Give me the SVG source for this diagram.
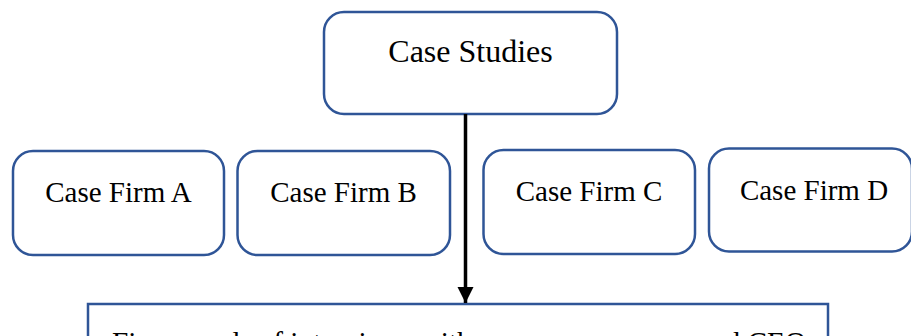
<svg xmlns="http://www.w3.org/2000/svg" width="911" height="336" viewBox="0 0 911 336">
  <style>
    .box { fill: #ffffff; stroke: #2F5597; stroke-width: 2.5; }
    .lbl { font-family: "Liberation Serif", "Times New Roman", serif; fill: #000000; text-anchor: middle; }
    .conn { stroke: #000000; stroke-width: 3.5; fill: none; }
  </style>
  <defs>
    <marker id="arrow" markerUnits="userSpaceOnUse" markerWidth="18" markerHeight="18" refX="16" refY="8" orient="auto">
      <path d="M0,0 L16,8 L0,16 Z" fill="#000000"/>
    </marker>
  </defs>
  <rect width="911" height="336" fill="#ffffff"/>
  <g id="case-studies">
    <rect class="box" x="324" y="12" width="293" height="102" rx="20" ry="20"/>
    <text class="lbl" x="470.5" y="61.5" font-size="32">Case Studies</text>
  </g>
  <g id="firm-a">
    <rect class="box" x="13" y="151" width="211" height="104" rx="20" ry="20"/>
    <text class="lbl" x="118.5" y="201.5" font-size="29">Case Firm A</text>
  </g>
  <g id="firm-b">
    <rect class="box" x="237.5" y="151" width="212.5" height="104" rx="20" ry="20"/>
    <text class="lbl" x="343.5" y="201.5" font-size="29">Case Firm B</text>
  </g>
  <g id="firm-c">
    <rect class="box" x="483.5" y="150" width="211.5" height="104" rx="20" ry="20"/>
    <text class="lbl" x="589" y="200.5" font-size="29">Case Firm C</text>
  </g>
  <g id="firm-d">
    <rect class="box" x="709" y="148.5" width="203" height="103" rx="20" ry="20"/>
    <text class="lbl" x="814" y="200" font-size="29">Case Firm D</text>
  </g>
  <g id="interviews">
    <rect class="box" x="88" y="304" width="740" height="80"/>
    <text x="112" y="352" font-size="29.3" font-family="Liberation Serif, Times New Roman, serif" fill="#000000">Five rounds of interviews with owners, managers and CEO</text>
  </g>
  <g id="connectors">
    <line class="conn" x1="465.5" y1="114" x2="465.5" y2="303" marker-end="url(#arrow)"/>
  </g>
</svg>
